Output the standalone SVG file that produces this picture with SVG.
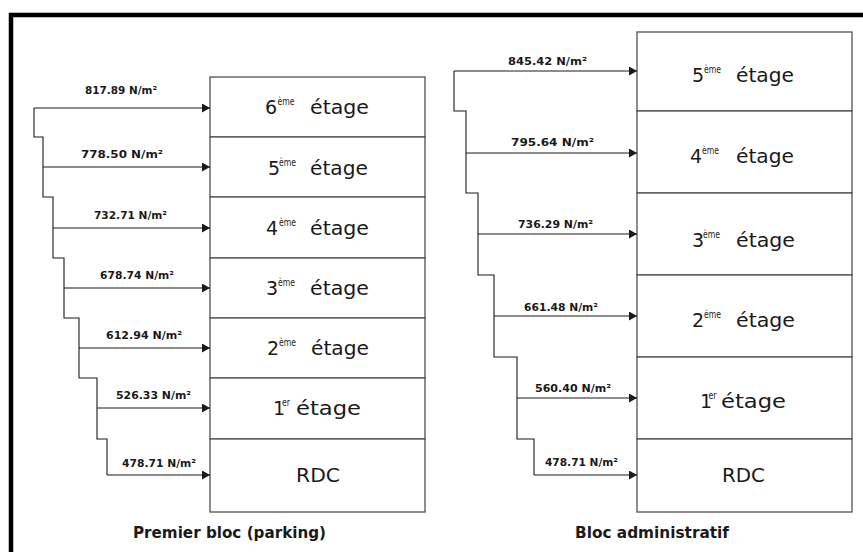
<svg xmlns="http://www.w3.org/2000/svg" width="863" height="552" viewBox="0 0 863 552">
  <style>
    .box { fill: #ffffff; stroke: #505050; stroke-width: 1.3; }
    .conn { fill: none; stroke: #1a1a1a; stroke-width: 1.1; }
    .lbl { font-family: "DejaVu Sans", "Liberation Sans", sans-serif; font-weight: bold; font-size: 10.5px; fill: #1a1a1a; }
    .fl { font-family: "DejaVu Sans", "Liberation Sans", sans-serif; font-size: 19px; fill: #1a1a1a; }
    .sup { font-size: 10px; }
    .title { font-family: "DejaVu Sans", "Liberation Sans", sans-serif; font-weight: bold; font-size: 15px; fill: #1a1a1a; }
  </style>
  <defs>
    <marker id="arr" markerUnits="userSpaceOnUse" markerWidth="9" markerHeight="10" refX="8" refY="4.5" orient="auto">
      <path d="M0,0 L8,4.5 L0,9 Z" fill="#1a1a1a"/>
    </marker>
  </defs>
  <rect x="0" y="0" width="863" height="552" fill="#ffffff"/>
  <path d="M11,560 V15 H870" fill="none" stroke="#000000" stroke-width="4.5"/>

  <!-- Left block -->
  <g id="L6"><rect class="box" x="210" y="77" width="215" height="60"/>
    <text class="fl"><tspan x="265" y="114">6</tspan><tspan class="sup" x="277.5" y="105" textLength="17" lengthAdjust="spacingAndGlyphs">ème</tspan><tspan x="310" y="114" textLength="59" lengthAdjust="spacingAndGlyphs">étage</tspan></text></g>
  <g id="L5"><rect class="box" x="210" y="137" width="215" height="60"/>
    <text class="fl"><tspan x="268" y="175">5</tspan><tspan class="sup" x="279" y="166" textLength="17" lengthAdjust="spacingAndGlyphs">ème</tspan><tspan x="310" y="175" textLength="58" lengthAdjust="spacingAndGlyphs">étage</tspan></text></g>
  <g id="L4"><rect class="box" x="210" y="197" width="215" height="61"/>
    <text class="fl"><tspan x="266" y="235">4</tspan><tspan class="sup" x="279" y="226" textLength="17" lengthAdjust="spacingAndGlyphs">ème</tspan><tspan x="310" y="235" textLength="59" lengthAdjust="spacingAndGlyphs">étage</tspan></text></g>
  <g id="L3"><rect class="box" x="210" y="258" width="215" height="60"/>
    <text class="fl"><tspan x="266" y="295">3</tspan><tspan class="sup" x="278" y="286" textLength="17" lengthAdjust="spacingAndGlyphs">ème</tspan><tspan x="310" y="295" textLength="59" lengthAdjust="spacingAndGlyphs">étage</tspan></text></g>
  <g id="L2"><rect class="box" x="210" y="318" width="215" height="60"/>
    <text class="fl"><tspan x="267" y="355">2</tspan><tspan class="sup" x="279" y="346" textLength="17" lengthAdjust="spacingAndGlyphs">ème</tspan><tspan x="311" y="355" textLength="58" lengthAdjust="spacingAndGlyphs">étage</tspan></text></g>
  <g id="L1"><rect class="box" x="210" y="378" width="215" height="61"/>
    <text class="fl"><tspan x="273" y="415">1</tspan><tspan class="sup" x="282" y="406" textLength="8" lengthAdjust="spacingAndGlyphs">er</tspan><tspan x="296" y="415" textLength="65" lengthAdjust="spacingAndGlyphs">étage</tspan></text></g>
  <g id="LRDC"><rect class="box" x="210" y="439" width="215" height="73"/>
    <text class="fl" x="296" y="482" textLength="44" lengthAdjust="spacingAndGlyphs">RDC</text></g>
  <g id="Ltitle"><text class="title" x="133" y="538" textLength="193" lengthAdjust="spacingAndGlyphs">Premier bloc (parking)</text></g>

  <!-- Right block -->
  <g id="R5"><rect class="box" x="637" y="32" width="215" height="79"/>
    <text class="fl"><tspan x="692" y="82">5</tspan><tspan class="sup" x="704" y="73" textLength="17" lengthAdjust="spacingAndGlyphs">ème</tspan><tspan x="736" y="82" textLength="58" lengthAdjust="spacingAndGlyphs">étage</tspan></text></g>
  <g id="R4"><rect class="box" x="637" y="111" width="215" height="82"/>
    <text class="fl"><tspan x="690" y="163">4</tspan><tspan class="sup" x="702" y="154" textLength="17" lengthAdjust="spacingAndGlyphs">ème</tspan><tspan x="736" y="163" textLength="58" lengthAdjust="spacingAndGlyphs">étage</tspan></text></g>
  <g id="R3"><rect class="box" x="637" y="193" width="215" height="82"/>
    <text class="fl"><tspan x="692" y="247">3</tspan><tspan class="sup" x="703" y="238" textLength="17" lengthAdjust="spacingAndGlyphs">ème</tspan><tspan x="736" y="247" textLength="59" lengthAdjust="spacingAndGlyphs">étage</tspan></text></g>
  <g id="R2"><rect class="box" x="637" y="275" width="215" height="82"/>
    <text class="fl"><tspan x="692" y="327">2</tspan><tspan class="sup" x="704" y="318" textLength="17" lengthAdjust="spacingAndGlyphs">ème</tspan><tspan x="736" y="327" textLength="59" lengthAdjust="spacingAndGlyphs">étage</tspan></text></g>
  <g id="R1"><rect class="box" x="637" y="357" width="215" height="82"/>
    <text class="fl"><tspan x="700" y="408">1</tspan><tspan class="sup" x="708.5" y="399" textLength="8" lengthAdjust="spacingAndGlyphs">er</tspan><tspan x="721" y="408" textLength="65" lengthAdjust="spacingAndGlyphs">étage</tspan></text></g>
  <g id="RRDC"><rect class="box" x="637" y="439" width="215" height="73"/>
    <text class="fl" x="722" y="482" textLength="43" lengthAdjust="spacingAndGlyphs">RDC</text></g>
  <g id="Rtitle"><text class="title" x="575" y="538" textLength="154" lengthAdjust="spacingAndGlyphs">Bloc administratif</text></g>

  <!-- Connectors -->
  <g id="connectors">
    <path class="conn" d="M34,108 V137 H43 V197 H53 V258 H64 V318 H79 V378 H97 V439 H107 V475"/>
    <line class="conn" x1="34" y1="108" x2="210" y2="108" marker-end="url(#arr)"/>
    <line class="conn" x1="43" y1="167" x2="210" y2="167" marker-end="url(#arr)"/>
    <line class="conn" x1="53" y1="228" x2="210" y2="228" marker-end="url(#arr)"/>
    <line class="conn" x1="64" y1="288" x2="210" y2="288" marker-end="url(#arr)"/>
    <line class="conn" x1="79" y1="348" x2="210" y2="348" marker-end="url(#arr)"/>
    <line class="conn" x1="97" y1="408" x2="210" y2="408" marker-end="url(#arr)"/>
    <line class="conn" x1="107" y1="475" x2="210" y2="475" marker-end="url(#arr)"/>

    <path class="conn" d="M454,71 V111 H466 V193 H478 V275 H494 V357 H517 V439 H534 V475"/>
    <line class="conn" x1="454" y1="71" x2="637" y2="71" marker-end="url(#arr)"/>
    <line class="conn" x1="466" y1="153" x2="637" y2="153" marker-end="url(#arr)"/>
    <line class="conn" x1="478" y1="234" x2="637" y2="234" marker-end="url(#arr)"/>
    <line class="conn" x1="494" y1="316" x2="637" y2="316" marker-end="url(#arr)"/>
    <line class="conn" x1="517" y1="398" x2="637" y2="398" marker-end="url(#arr)"/>
    <line class="conn" x1="534" y1="475" x2="637" y2="475" marker-end="url(#arr)"/>
  </g>

  <!-- Connector labels -->
  <g id="labels">
    <text class="lbl" x="85" y="94" textLength="72" lengthAdjust="spacingAndGlyphs">817.89 N/m²</text>
    <text class="lbl" x="81" y="158" textLength="82" lengthAdjust="spacingAndGlyphs">778.50 N/m²</text>
    <text class="lbl" x="94" y="219" textLength="73" lengthAdjust="spacingAndGlyphs">732.71 N/m²</text>
    <text class="lbl" x="100" y="279" textLength="74" lengthAdjust="spacingAndGlyphs">678.74 N/m²</text>
    <text class="lbl" x="106" y="339" textLength="76" lengthAdjust="spacingAndGlyphs">612.94 N/m²</text>
    <text class="lbl" x="116" y="399" textLength="75" lengthAdjust="spacingAndGlyphs">526.33 N/m²</text>
    <text class="lbl" x="122" y="467" textLength="74" lengthAdjust="spacingAndGlyphs">478.71 N/m²</text>

    <text class="lbl" x="508" y="65" textLength="79" lengthAdjust="spacingAndGlyphs">845.42 N/m²</text>
    <text class="lbl" x="511" y="146" textLength="83" lengthAdjust="spacingAndGlyphs">795.64 N/m²</text>
    <text class="lbl" x="518" y="228" textLength="75" lengthAdjust="spacingAndGlyphs">736.29 N/m²</text>
    <text class="lbl" x="524" y="311" textLength="74" lengthAdjust="spacingAndGlyphs">661.48 N/m²</text>
    <text class="lbl" x="535" y="392" textLength="76" lengthAdjust="spacingAndGlyphs">560.40 N/m²</text>
    <text class="lbl" x="545" y="466" textLength="73" lengthAdjust="spacingAndGlyphs">478.71 N/m²</text>
  </g>
</svg>
